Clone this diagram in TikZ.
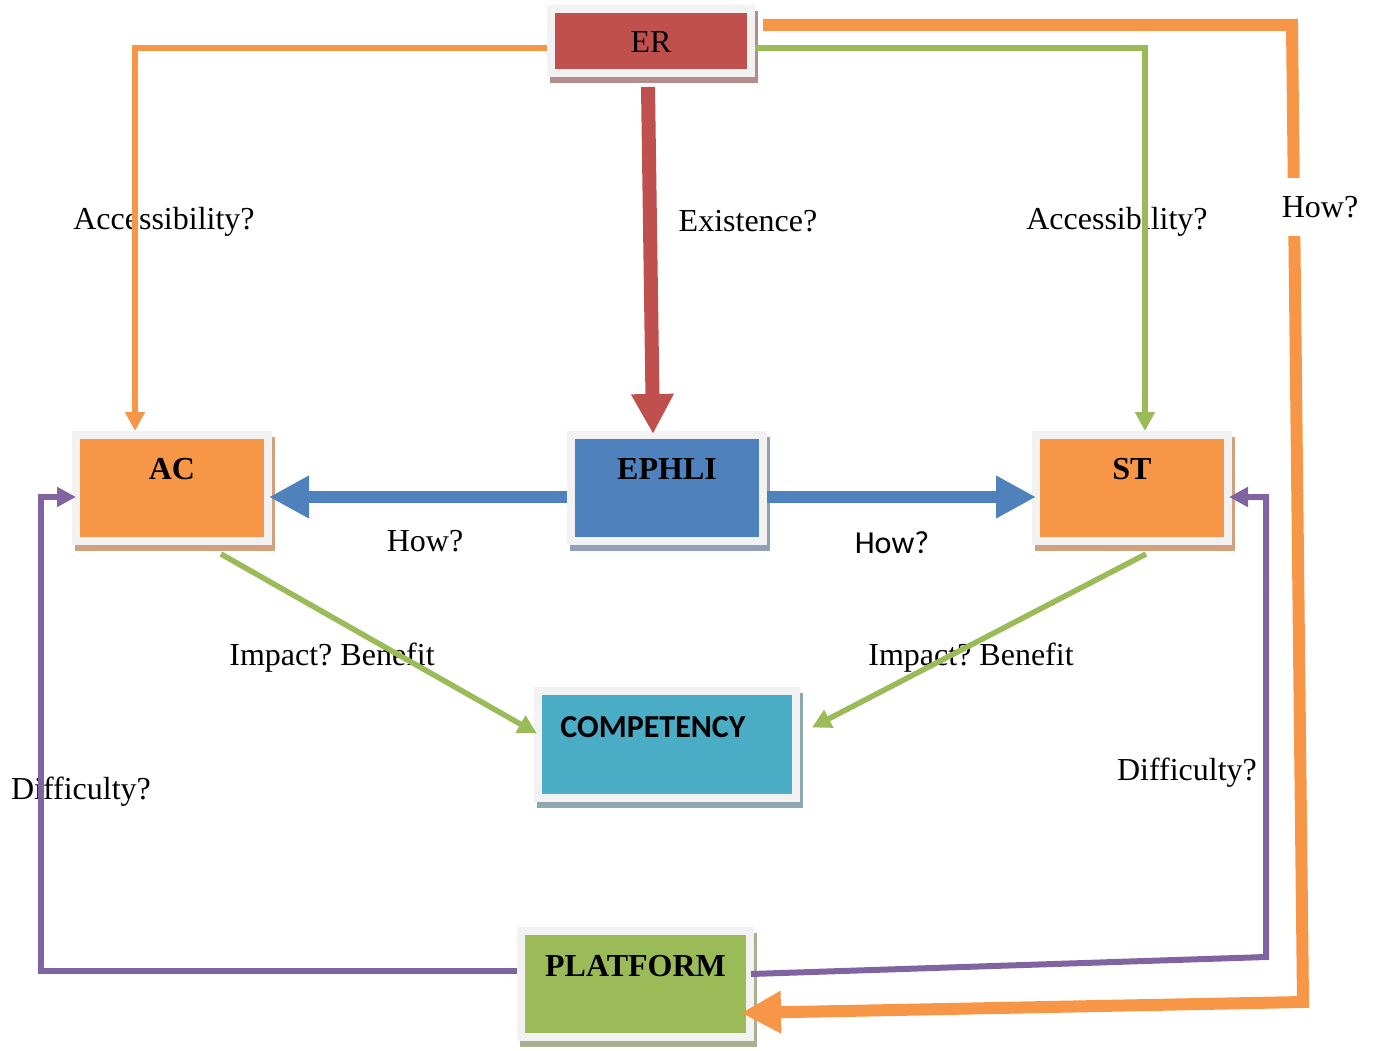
\documentclass[tikz,border=0pt]{standalone}
\usepackage{fontspec}
\setmainfont{Liberation Serif}
\newfontfamily\calibri{Carlito}
\usetikzlibrary{arrows.meta}
\frenchspacing

\definecolor{erred}{HTML}{C0504D}
\definecolor{acorange}{HTML}{F79646}
\definecolor{ephblue}{HTML}{4F81BD}
\definecolor{compteal}{HTML}{4BACC6}
\definecolor{platgreen}{HTML}{9BBB59}
\definecolor{diffpurple}{HTML}{8064A2}
\definecolor{framegray}{HTML}{F2F2F2}
\definecolor{ershadow}{HTML}{B38C8C}
\definecolor{orshadow}{HTML}{D2A27F}
\definecolor{blshadow}{HTML}{8FA0B8}
\definecolor{tlshadow}{HTML}{8EA8B2}
\definecolor{grshadow}{HTML}{A9B092}

\begin{document}
\begin{tikzpicture}[
      x = 1pt, y = -1pt,
      every node/.style = {font = \fontsize{32}{38}\selectfont},
      box/.style 2 args = {
        fill = #1, draw = framegray, line width = 8pt,
        inner sep = 0pt, align = center,
        preaction = {fill = #2, draw = #2, line width = 8pt,
          transform canvas = {shift = {(3pt,-6pt)}}}},
      slim/.style = {line width = 5.5pt, -{Triangle[length=19pt,width=19pt]}},
      fat/.style = {line width = 12pt, -{Triangle[length=40pt,width=40pt]}}
      ]
    \useasboundingbox (0,0) rectangle (1377,1051);
    \node[box = {erred}{ershadow}, text width = 200pt,
      text height = 44pt, text depth = 20pt] (ER) at (651,41) {ER};
    \node[box = {acorange}{orshadow}, text width = 192pt,
      text height = 44pt, text depth = 62pt] (AC) at (172,488) {\bfseries AC};
    \node[box = {ephblue}{blshadow}, text width = 192pt,
      text height = 44pt, text depth = 62pt] (EPHLI) at (667,488) {\bfseries EPHLI};
    \node[box = {acorange}{orshadow}, text width = 192pt,
      text height = 44pt, text depth = 62pt] (ST) at (1132,488) {\bfseries ST};
    \node[box = {compteal}{tlshadow}, text width = 258pt,
      text height = 46pt, text depth = 61pt] (COMP) at (667,744.5)
      {\hspace*{-28pt}\calibri\bfseries COMPETENCY};
    \node[box = {platgreen}{grshadow}, text width = 229pt,
      text height = 45pt, text depth = 61pt] (PLAT) at (635.5,984) {\bfseries PLATFORM};

    % labels
    \node (accleft) at (164,222) {Accessibility?};
    \node (exist) at (748,221) {Existence?};
    \node (accright) at (1117,222) {Accessibility?};
    \node (howleft) at (425,541) {How?};
    \node (howright) at (892,543) {\calibri How?};
    \node (impleft) at (332,658) {Impact? Benefit};
    \node (impright) at (971,658) {Impact? Benefit};
    \node (diffleft) at (81,792) {Difficulty?};
    \node (diffright) at (1187,773) {Difficulty?};

    \coordinate (topright) at (1292,25);
    \coordinate (botright) at (1303,1002);
    \coordinate (purplecorner) at (1266,957);

    \draw[slim, acorange] ([yshift=-7pt]ER.west) -| ([xshift=-37pt]AC.north);
    \draw[slim, platgreen] ([yshift=-7pt]ER.east) -| ([xshift=13pt]ST.north);
    \draw[fat, erred, line width = 14pt] ([xshift=-3pt,yshift=-10pt]ER.south)
      -- ([xshift=-14pt,yshift=-3pt]EPHLI.north);
    \draw[fat, acorange] ([xshift=8pt,yshift=16pt]ER.east) -- (topright)
      -- (botright) -- ([xshift=-13pt,yshift=-29pt]PLAT.east);
    \draw[fat, ephblue] ([yshift=-9pt]EPHLI.west) -- ([xshift=-3pt,yshift=-9pt]AC.east);
    \draw[fat, ephblue] ([yshift=-9pt]EPHLI.east) -- ([xshift=4pt,yshift=-9pt]ST.west);
    \draw[slim, platgreen] ([xshift=49pt,yshift=-9pt]AC.south)
      -- ([xshift=3pt,yshift=11pt]COMP.west);
    \draw[slim, platgreen] ([xshift=14pt,yshift=-9pt]ST.south)
      -- ([xshift=12pt,yshift=17pt]COMP.east);
    \draw[slim, diffpurple, line width = 6pt] ([yshift=13pt]PLAT.west)
      -| ([xshift=-31pt,yshift=-9pt]AC.west) -- ([xshift=4pt,yshift=-9pt]AC.west);
    \draw[slim, diffpurple, line width = 6pt] ([xshift=-3pt,yshift=10pt]PLAT.east)
      -- (purplecorner) |- ([xshift=-3pt,yshift=-9pt]ST.east);

    \node[fill = white, minimum height = 58pt] (howplat) at (1320,207) {How?};
  \end{tikzpicture}
\end{document}
